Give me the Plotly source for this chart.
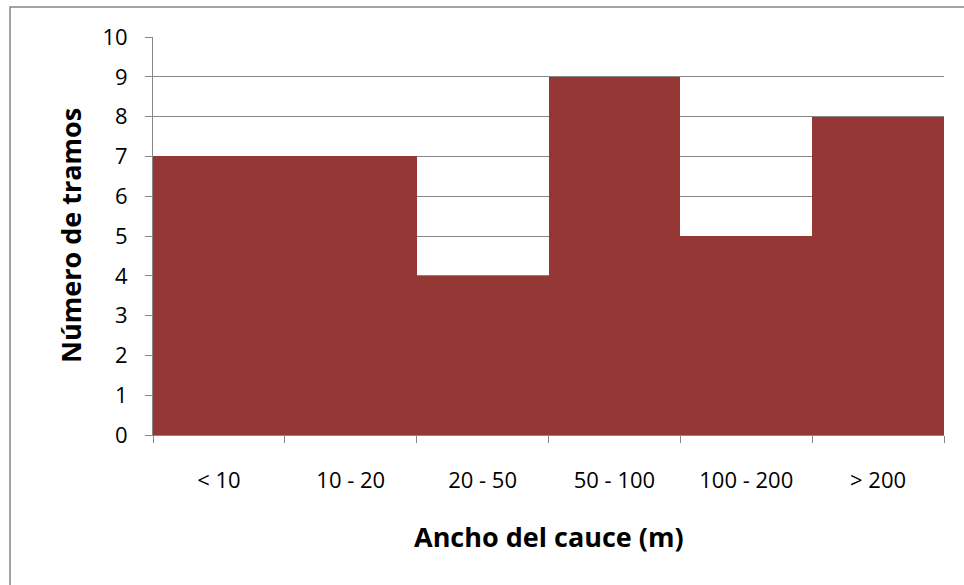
import plotly.graph_objects as go

# Channel width classes and number of river reaches in each
categories = ["< 10", "10 - 20", "20 - 50", "50 - 100", "100 - 200", "> 200"]
reaches = [7, 7, 4, 9, 5, 8]
y_ticks = list(range(0, 11))

W, H = 964, 585
L, R, T, B = 153, 20, 37, 150
plot_w = W - L - R
plot_h = H - T - B

grey = "#868686"
font = "'Open Sans', sans-serif"

fig = go.Figure(
    go.Bar(
        x=categories,
        y=reaches,
        marker=dict(color="#953735", line=dict(width=0)),
        width=1.0,
        hoverinfo="x+y",
    )
)

fig.update_layout(
    width=W,
    height=H,
    margin=dict(l=L, r=R, t=T, b=B, pad=0),
    paper_bgcolor="white",
    plot_bgcolor="white",
    showlegend=False,
    bargap=0,
    font=dict(family=font, color="black"),
)

fig.update_xaxes(
    type="category",
    range=[-0.5, 5.5],
    tickson="boundaries",
    ticks="outside",
    ticklen=7,
    tickcolor=grey,
    tickwidth=1,
    showline=True,
    linecolor=grey,
    linewidth=1,
    showgrid=False,
    ticklabelstandoff=26,
    tickfont=dict(size=22, family=font),
)

fig.update_yaxes(
    range=[0, 10],
    tickvals=y_ticks,
    ticks="outside",
    ticklen=7,
    tickcolor=grey,
    tickwidth=1,
    showline=True,
    linecolor=grey,
    linewidth=1,
    showgrid=True,
    gridcolor=grey,
    gridwidth=1,
    zeroline=False,
    ticklabelstandoff=13,
    tickfont=dict(size=22, family=font),
)

# Axis titles
fig.add_annotation(
    text="<b>Ancho del cauce (m)</b>",
    xref="paper", yref="paper",
    x=0.5, y=(H - B - 536) / plot_h,
    xanchor="center", yanchor="middle",
    showarrow=False,
    font=dict(size=27, family=font),
)
fig.add_annotation(
    text="<b>Número de tramos</b>",
    xref="paper", yref="paper",
    x=(70 - L) / plot_w, y=0.5,
    xanchor="center", yanchor="middle",
    textangle=-90,
    showarrow=False,
    font=dict(size=27, family=font),
)

# Chart frame
fig.add_shape(
    type="rect",
    xref="paper", yref="paper",
    x0=(10 - L) / plot_w, x1=(W + 10 - L) / plot_w,
    y0=(H - B - (H + 10)) / plot_h, y1=(H - B - 7) / plot_h,
    line=dict(color=grey, width=1.5),
    fillcolor="rgba(0,0,0,0)",
    layer="below",
)

fig.write_html("out.html")
